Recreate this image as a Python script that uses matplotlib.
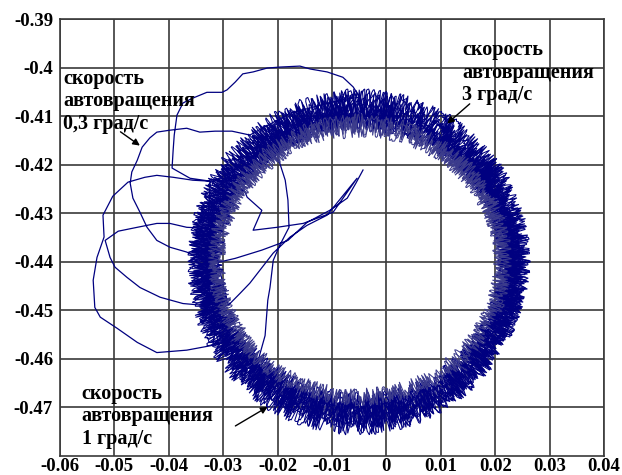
import matplotlib
matplotlib.use('Agg')
import matplotlib.pyplot as plt
from matplotlib.patches import Ellipse

# axis ticks
x_ticks = [-0.06, -0.05, -0.04, -0.03, -0.02, -0.01, 0.0, 0.01, 0.02, 0.03, 0.04]
x_labels = ['-0.06', '-0.05', '-0.04', '-0.03', '-0.02', '-0.01', '0',
            '0.01', '0.02', '0.03', '0.04']
y_ticks = [-0.39, -0.40, -0.41, -0.42, -0.43, -0.44, -0.45, -0.46, -0.47]
y_labels = ['-0.39', '-0.4', '-0.41', '-0.42', '-0.43', '-0.44', '-0.45',
            '-0.46', '-0.47']

# slow spin (0.3 deg/s): wandering trajectory
slow_x = [-0.0043, -0.0056, -0.0072, -0.0104, -0.0146, -0.0181, -0.0229, -0.0278,
          -0.0324, -0.0367, -0.0398, -0.0422, -0.0440, -0.0453, -0.0466, -0.0471,
          -0.0468, -0.0458, -0.0449, -0.0435, -0.0422, -0.0398, -0.0367, -0.0343,
          -0.0315, -0.0284, -0.0251, -0.0177, -0.0085, -0.0049, -0.0061, -0.0080,
          -0.0109, -0.0140, -0.0159, -0.0196, -0.0219, -0.0245, -0.0264, -0.0278,
          -0.0293, -0.0302, -0.0330, -0.0356, -0.0374, -0.0385, -0.0390, -0.0392,
          -0.0394, -0.0361, -0.0324, -0.0328, -0.0367, -0.0398, -0.0422, -0.0458,
          -0.0493, -0.0517, -0.0508, -0.0499, -0.0477, -0.0453, -0.0416, -0.0374,
          -0.0333, -0.0315, -0.0319, -0.0367, -0.0422, -0.0458, -0.0495, -0.0526,
          -0.0536, -0.0539, -0.0532, -0.0519, -0.0521, -0.0503, -0.0475, -0.0444,
          -0.0422, -0.0392, -0.0356, -0.0324, -0.0269, -0.0256, -0.0229, -0.0245,
          -0.0201, -0.0153, -0.0098, -0.0054, -0.0109, -0.0146, -0.0177, -0.0208,
          -0.0251, -0.0269, -0.0291, -0.0315, -0.0260, -0.0214, -0.0196, -0.0186,
          -0.0181, -0.0179, -0.0196, -0.0208, -0.0214, -0.0218, -0.0223, -0.0242]
slow_y = [-0.4211, -0.4238, -0.4269, -0.4294, -0.4319, -0.4356, -0.4376, -0.4393,
          -0.4405, -0.4380, -0.4370, -0.4356, -0.4329, -0.4298, -0.4269, -0.4238,
          -0.4215, -0.4191, -0.4164, -0.4145, -0.4133, -0.4129, -0.4125, -0.4133,
          -0.4131, -0.4131, -0.4139, -0.4094, -0.4067, -0.4061, -0.4040, -0.4020,
          -0.4009, -0.4003, -0.3997, -0.3999, -0.4001, -0.4009, -0.4013, -0.4030,
          -0.4046, -0.4051, -0.4051, -0.4063, -0.4073, -0.4098, -0.4139, -0.4170,
          -0.4207, -0.4228, -0.4234, -0.4331, -0.4329, -0.4321, -0.4321, -0.4329,
          -0.4337, -0.4356, -0.4391, -0.4411, -0.4432, -0.4453, -0.4473, -0.4486,
          -0.4490, -0.4541, -0.4572, -0.4582, -0.4587, -0.4566, -0.4537, -0.4514,
          -0.4494, -0.4438, -0.4391, -0.4349, -0.4304, -0.4265, -0.4236, -0.4226,
          -0.4222, -0.4226, -0.4232, -0.4234, -0.4232, -0.4267, -0.4294, -0.4335,
          -0.4329, -0.4321, -0.4298, -0.4228, -0.4304, -0.4325, -0.4349, -0.4382,
          -0.4444, -0.4465, -0.4490, -0.4376, -0.4191, -0.4170, -0.4197, -0.4232,
          -0.4273, -0.4329, -0.4366, -0.4397, -0.4453, -0.4479, -0.4552, -0.4628]

# fast spin (3 deg/s): successive loops, centre and size
fast_cx = [-0.0050, -0.0048, -0.0047, -0.0052, -0.0049, -0.0046, -0.0051, -0.0047,
           -0.0049, -0.0050]
fast_cy = [-0.4392, -0.4391, -0.4394, -0.4392, -0.4396, -0.4394, -0.4395, -0.4397,
           -0.4396, -0.4397]
fast_w = [0.0600, 0.0593, 0.0586, 0.0570, 0.0563, 0.0556, 0.0541, 0.0535, 0.0529, 0.0522]
fast_h = [0.0664, 0.0655, 0.0646, 0.0625, 0.0616, 0.0607, 0.0586, 0.0577, 0.0568, 0.0558]

# medium spin (1 deg/s)
mid_cx = [-0.0054, -0.0052, -0.0050, -0.0048, -0.0051, -0.0047, -0.0049]
mid_cy = [-0.4412, -0.4414, -0.4413, -0.4416, -0.4412, -0.4415, -0.4414]
mid_w = [0.0594, 0.0585, 0.0568, 0.0559, 0.0545, 0.0535, 0.0526]
mid_h = [0.0658, 0.0647, 0.0626, 0.0615, 0.0597, 0.0585, 0.0572]

navy = '#000080'

plt.rcParams['font.family'] = ['Liberation Serif', 'DejaVu Serif']
plt.rcParams['font.weight'] = 'bold'

fig = plt.figure(figsize=(6.22, 4.75), dpi=100)
ax = fig.add_axes([60 / 622, 19 / 475, 544 / 622, 437 / 475])

ax.plot(slow_x, slow_y, color=navy, lw=0.9, zorder=2)

# rings: outer loops in full navy, inner loops a little paler
for group in [(mid_cx, mid_cy, mid_w, mid_h), (fast_cx, fast_cy, fast_w, fast_h)]:
    n = len(group[0])
    for i, (cx, cy, w, h) in enumerate(zip(*group)):
        col = navy if i < n - 2 else '#3c3c8c'
        e = Ellipse((cx, cy), w, h, fill=False, edgecolor=col, lw=0.75, zorder=3)
        e.set_sketch_params(scale=8, length=1.5, randomness=24)
        ax.add_patch(e)

ax.set_xlim(-0.06, 0.04)
ax.set_ylim(-0.48, -0.39)
ax.set_xticks(x_ticks, x_labels)
ax.set_yticks(y_ticks, y_labels)
ax.tick_params(length=0, labelsize=13.5)
ax.tick_params(axis='x', pad=1.5)
ax.tick_params(axis='y', pad=5)
ax.grid(True, color='#3a3a3a', lw=1.2)
ax.set_axisbelow(True)
for s in ax.spines.values():
    s.set_color('#3a3a3a')
    s.set_linewidth(1.2)

txt = dict(fontsize=14.5, fontweight='bold', va='top', ha='left', linespacing=1.18, zorder=5)
arrow = dict(arrowstyle='-|>', color='black', lw=1.0, mutation_scale=10)

ax.text(-0.0594, -0.4002, 'скорость\nавтовращения\n0,3 град/с', **txt)
ax.annotate('', xy=(-0.0449, -0.4164), xytext=(-0.0493, -0.4129), arrowprops=arrow)

ax.text(0.0139, -0.3943, 'скорость\nавтовращения\n3 град/с', **txt)
ax.annotate('', xy=(0.0108, -0.4119), xytext=(0.0157, -0.4071), arrowprops=arrow)

ax.text(-0.0560, -0.4651, 'скорость\nавтовращения\n1 град/с', **txt)
ax.annotate('', xy=(-0.0214, -0.4696), xytext=(-0.0282, -0.4741), arrowprops=arrow)

fig.savefig('out.png', dpi=100)
